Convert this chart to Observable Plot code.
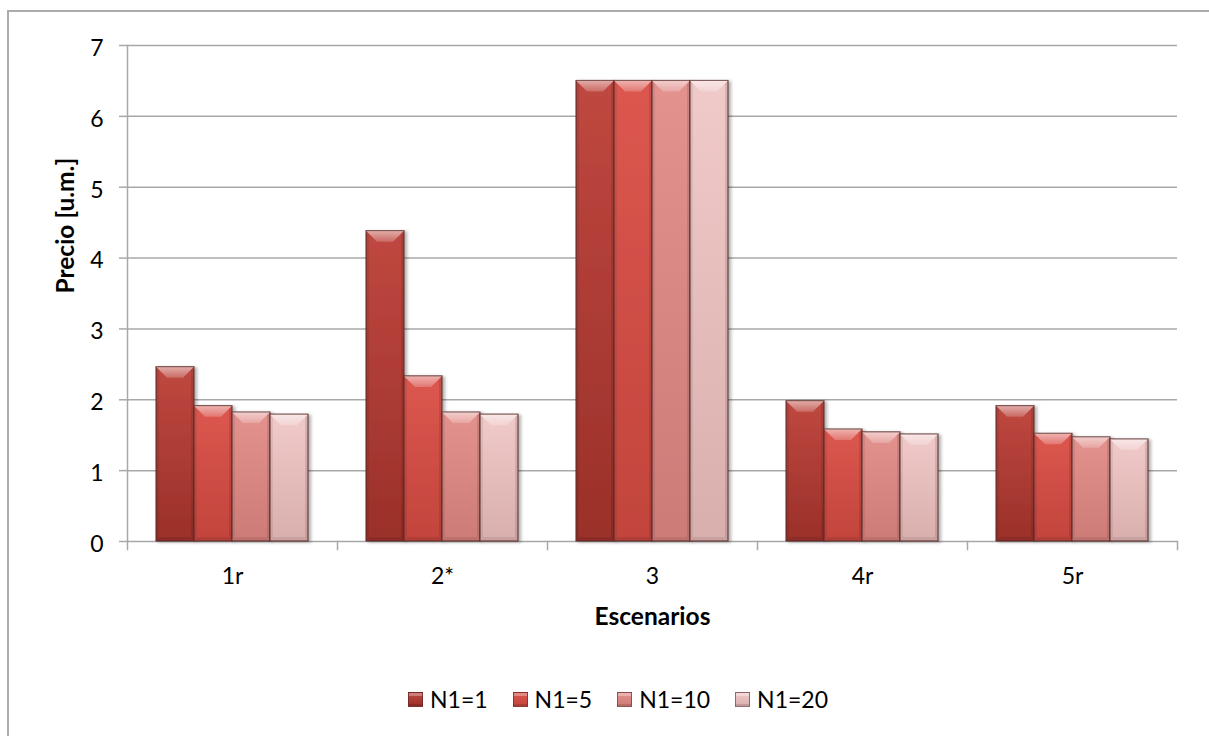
<!DOCTYPE html>
<html>
<head>
<meta charset="utf-8">
<script src="https://cdn.jsdelivr.net/npm/d3@7"></script>
<script src="https://cdn.jsdelivr.net/npm/@observablehq/plot@0.6"></script>
<style>
  html, body { margin: 0; padding: 0; background: #fff; overflow: hidden; }
  #wrap { position: relative; width: 1209px; height: 736px; font-family: Lato, "Open Sans", sans-serif; }
  #border { position: absolute; left: 7px; top: 10px; width: 1400px; height: 900px;
            border-top: 2px solid #ababab; border-left: 2px solid #ababab; box-sizing: border-box; }
  #chart { position: absolute; left: 0; top: 0; }
  #legend { position: absolute; left: 408px; top: 688px; display: flex; align-items: center;
            font-size: 23px; line-height: 1; color: #000; }
  .item { display: flex; align-items: center; margin-right: 25px; }
  .sw { width: 13px; height: 13px; margin-right: 7px; border: 1px solid rgba(80, 35, 35, 0.55);
        box-shadow: inset 0 3px 0 rgba(255,255,255,0.3), inset 0 -2px 0 rgba(0,0,0,0.12); }
</style>
</head>
<body>
<div id="wrap">
  <div id="border"></div>
  <div id="chart"></div>
  <div id="legend"></div>
</div>
<script>
// Price per scenario for each N1 value
const scenarios = ["1r", "2*", "3", "4r", "5r"];
const series = ["N1=1", "N1=5", "N1=10", "N1=20"];
const n1_1  = [2.46, 4.38, 6.5, 1.98, 1.91];
const n1_5  = [1.91, 2.33, 6.5, 1.58, 1.52];
const n1_10 = [1.82, 1.82, 6.5, 1.54, 1.47];
const n1_20 = [1.79, 1.79, 6.5, 1.51, 1.44];
const yTicks = [0, 1, 2, 3, 4, 5, 6, 7];

// [top, bottom] colours of each bar gradient
const palettes = [
  ["#bf4840", "#9a3029"],
  ["#dc574f", "#c2443c"],
  ["#e3928e", "#cd7b77"],
  ["#f0cac9", "#d9afad"]
];

const values = [n1_1, n1_5, n1_10, n1_20];
const rows = series.map((s, i) => scenarios.map((sc, j) => ({scenario: sc, series: s, value: values[i][j]})));

const W = 1209, H = 650, mT = 45, mB = 109, mL = 126, mR = 32;
const innerH = H - mT - mB;
const gray = "#a8a8a8";

const chart = Plot.plot({
  width: W, height: H,
  marginTop: mT, marginBottom: mB, marginLeft: mL, marginRight: mR,
  style: {fontFamily: "Lato, 'Open Sans', sans-serif", fontSize: "23px", color: "#000", background: "transparent", overflow: "visible"},
  fx: {domain: scenarios, paddingInner: 0, paddingOuter: 0, axis: null, label: null},
  x: {domain: series, paddingInner: 0, paddingOuter: 0.71, axis: null},
  y: {domain: [0, 7], axis: null},
  marks: [
    Plot.gridY(yTicks.filter(t => t > 0), {stroke: gray, strokeOpacity: 1, strokeWidth: 1.5}),
    Plot.ruleY([0], {stroke: gray, strokeWidth: 1.5}),
    // value axis line
    Plot.frame({anchor: "left", facetAnchor: "left", stroke: gray, strokeWidth: 1.5}),
    // category boundary ticks
    Plot.frame({anchor: "left", insetTop: innerH, insetBottom: -8, stroke: gray, strokeWidth: 1.5}),
    Plot.frame({anchor: "right", facetAnchor: "right", insetTop: innerH, insetBottom: -8, stroke: gray, strokeWidth: 1.5}),
    Plot.axisY(yTicks, {tickSize: 8, tickFormat: () => "", stroke: gray, strokeWidth: 1.5, label: null}),
    Plot.axisY(yTicks, {tickSize: 0, tickPadding: 24, dy: 3, tickFormat: d => String(d), label: null}),
    Plot.axisFx({anchor: "bottom", tickSize: 0, tickPadding: 26, label: null}),
    ...rows.map((data, i) => Plot.barY(data, {
      fx: "scenario", x: "series", y: "value",
      fill: `url(#bar${i})`, stroke: "#5a2e2c", strokeOpacity: 0.6, strokeWidth: 1
    })),
    Plot.text(["Escenarios"], {fx: ["3"], text: d => d, frameAnchor: "bottom", dy: 83, fontWeight: "bold", fontSize: 24.5}),
    Plot.text(["Precio [u.m.]"], {fx: ["1r"], text: d => d, frameAnchor: "left", rotate: -90, dx: -61, fontWeight: "bold", fontSize: 24.5})
  ]
});

document.getElementById("chart").appendChild(chart);

// gradients, bevel and shadow for the bars
const svg = d3.select(chart);
const defs = svg.insert("defs", ":first-child");
palettes.forEach((p, i) => {
  const g = defs.append("linearGradient").attr("id", `bar${i}`)
    .attr("x1", 0).attr("y1", 0).attr("x2", 0).attr("y2", 1);
  g.append("stop").attr("offset", 0).attr("stop-color", p[0]);
  g.append("stop").attr("offset", 1).attr("stop-color", p[1]);
});
const bt = defs.append("linearGradient").attr("id", "bevelTop")
  .attr("x1", 0).attr("y1", 0).attr("x2", 0).attr("y2", 1);
bt.append("stop").attr("offset", 0).attr("stop-color", "#fff").attr("stop-opacity", 0.55);
bt.append("stop").attr("offset", 1).attr("stop-color", "#fff").attr("stop-opacity", 0.2);
const f = defs.append("filter").attr("id", "barShadow")
  .attr("x", "-10%").attr("y", "-10%").attr("width", "130%").attr("height", "130%");
f.append("feDropShadow").attr("dx", 2.5).attr("dy", 1).attr("stdDeviation", 1.8)
  .attr("flood-color", "#000").attr("flood-opacity", 0.3);

svg.selectAll('g[fill^="url(#bar"]').each(function () {
  const group = d3.select(this).attr("filter", "url(#barShadow)");
  group.selectAll("rect").each(function () {
    const r = this;
    const x = +r.getAttribute("x"), y = +r.getAttribute("y");
    const w = +r.getAttribute("width"), h = +r.getAttribute("height");
    const p = d3.select(r.parentNode);
    const b = Math.min(11, w / 2, h / 2);
    const s = Math.min(3, w / 4);
    const bb = Math.min(4, h / 4);
    // side shading
    p.append("polygon").attr("points", `${x},${y} ${x + s},${y + s} ${x + s},${y + h - bb} ${x},${y + h}`)
      .attr("fill", "#000").attr("fill-opacity", 0.07).attr("stroke", "none");
    p.append("polygon").attr("points", `${x + w},${y} ${x + w - s},${y + s} ${x + w - s},${y + h - bb} ${x + w},${y + h}`)
      .attr("fill", "#000").attr("fill-opacity", 0.1).attr("stroke", "none");
    // bottom bevel
    p.append("polygon").attr("points", `${x},${y + h} ${x + w},${y + h} ${x + w - s},${y + h - bb} ${x + s},${y + h - bb}`)
      .attr("fill", "#000").attr("fill-opacity", 0.08).attr("stroke", "none");
    // top bevel
    p.append("polygon").attr("points", `${x},${y} ${x + w},${y} ${x + w - b},${y + b} ${x + b},${y + b}`)
      .attr("fill", "url(#bevelTop)").attr("stroke", "none");
    // outline on top
    p.append("rect").attr("x", x).attr("y", y).attr("width", w).attr("height", h)
      .attr("fill", "none").attr("stroke", "#5a2e2c").attr("stroke-opacity", 0.6).attr("stroke-width", 1);
  });
});

// legend
const legend = d3.select("#legend");
series.forEach((s, i) => {
  const item = legend.append("div").attr("class", "item");
  item.append("div").attr("class", "sw")
    .style("background", `linear-gradient(${palettes[i][0]}, ${palettes[i][1]})`);
  item.append("span").text(s);
});
</script>
</body>
</html>
